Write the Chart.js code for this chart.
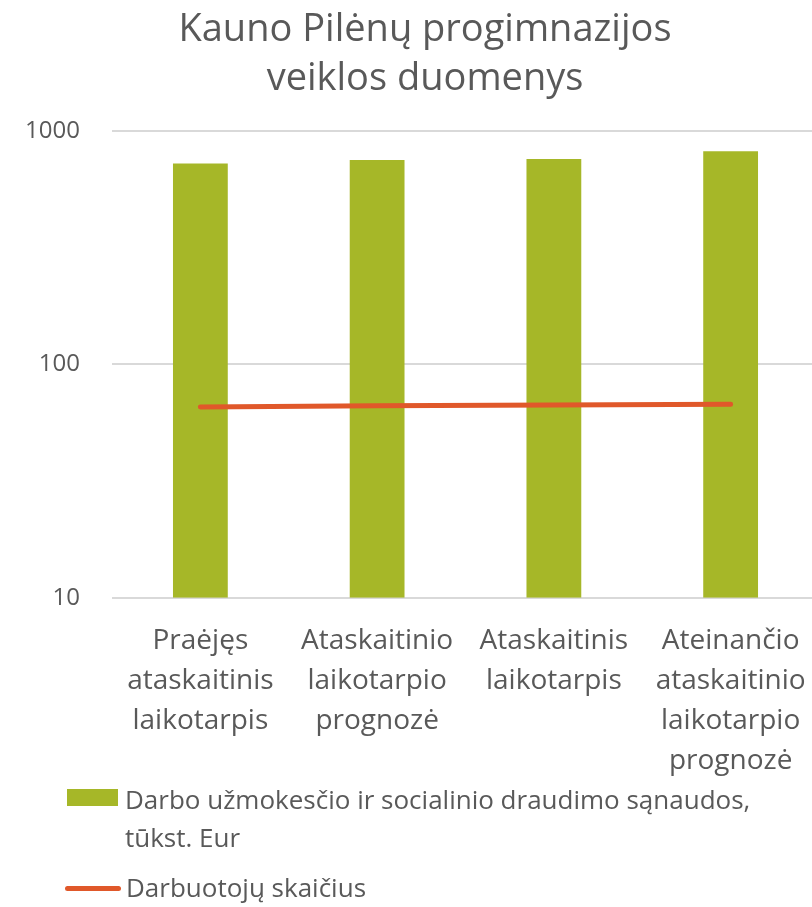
<!DOCTYPE html>
<html>
<head>
<meta charset="utf-8">
<script src="https://cdn.jsdelivr.net/npm/chart.js@4.4.1/dist/chart.umd.min.js"></script>
<style>
  body { margin: 0; background: #fff; overflow: hidden; }
  #wrap { position: relative; width: 848px; height: 907px; }
  .legend { position: absolute; left: 0; top: 0; font-family: "Open Sans", sans-serif; font-size: 26px; color: #595959; }
  .leg-text { position: absolute; white-space: nowrap; line-height: 38px; }
</style>
</head>
<body>
<div id="wrap">
  <canvas id="myChart"></canvas>
  <div class="legend">
    <div style="position:absolute;left:67px;top:789px;width:51px;height:17px;background:#A6B728;"></div>
    <div class="leg-text" style="left:125px;top:780px;">Darbo užmokesčio ir socialinio draudimo sąnaudos,<br>tūkst. Eur</div>
    <div style="position:absolute;left:65px;top:886px;width:56px;height:5px;border-radius:3px;background:#E0582A;"></div>
    <div class="leg-text" style="left:126px;top:868px;">Darbuotojų skaičius</div>
  </div>
</div>
<script>
let ctx = document.getElementById("myChart").getContext("2d");
let labels = [
  ["Praėjęs", "ataskaitinis", "laikotarpis"],
  ["Ataskaitinio", "laikotarpio", "prognozė"],
  ["Ataskaitinis", "laikotarpis"],
  ["Ateinančio", "ataskaitinio", "laikotarpio", "prognozė"],
];
let wageCosts = [725, 749, 758, 818];
let staffCount = [65.6, 66.4, 67, 67.4];
let yTicks = [10, 100, 1000];
let textColor = "#595959";
let family = "'Open Sans', sans-serif";

let myChart = new Chart(ctx, {
  type: "bar",
  data: {
    labels: labels,
    datasets: [
      {
        type: "line",
        label: "Darbuotojų skaičius",
        data: staffCount,
        borderColor: "#E0582A",
        backgroundColor: "#E0582A",
        borderWidth: 5,
        borderCapStyle: "round",
        pointRadius: 0,
        order: 0,
      },
      {
        label: "Darbo užmokesčio ir socialinio draudimo sąnaudos, tūkst. Eur",
        data: wageCosts,
        backgroundColor: "#A6B728",
        categoryPercentage: 1,
        barPercentage: 0.31,
        order: 1,
      },
    ],
  },
  options: {
    responsive: true,
    maintainAspectRatio: false,
    animation: false,
    layout: { padding: { left: 2, right: 0, bottom: 111 } },
    plugins: {
      legend: { display: false },
      tooltip: { enabled: false },
      title: {
        display: true,
        text: ["Kauno Pilėnų progimnazijos", "veiklos duomenys"],
        color: textColor,
        font: { family: family, size: 38, weight: "normal", lineHeight: 1.3 },
        padding: { top: 5, bottom: 27 },
      },
    },
    scales: {
      x: {
        grid: { display: false },
        border: { display: false },
        ticks: {
          color: textColor,
          font: { family: family, size: 28, lineHeight: 1.43 },
          padding: 15,
          maxRotation: 0,
          autoSkip: false,
        },
      },
      y: {
        type: "logarithmic",
        min: 10,
        max: 1000,
        afterBuildTicks: (scale) => {
          scale.ticks = yTicks.map((v) => ({ value: v }));
        },
        afterFit: (scale) => {
          scale.width = 110;
        },
        border: { display: false },
        grid: { color: "#D9D9D9", lineWidth: 2, drawTicks: false },
        ticks: {
          color: textColor,
          font: { family: family, size: 24 },
          padding: 32,
          callback: (value) => String(value),
        },
      },
      // empty right-hand spacer (the chart is cut off on the right)
      y2: {
        position: "right",
        grid: { display: false },
        border: { display: false },
        ticks: { display: false },
        afterFit: (scale) => {
          scale.width = 29;
        },
      },
    },
  },
});
</script>
</body>
</html>
